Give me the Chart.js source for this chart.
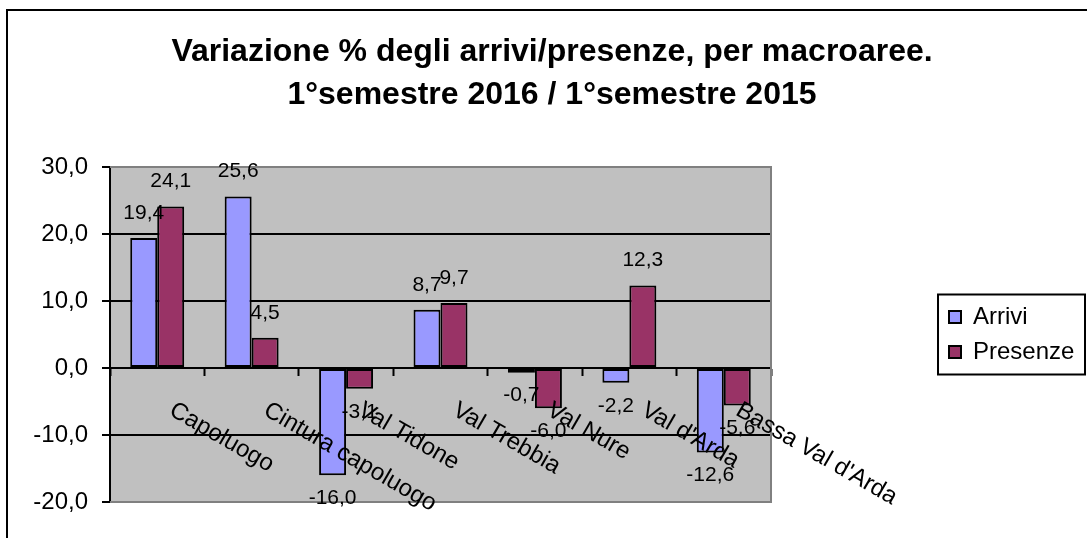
<!DOCTYPE html>
<html>
<head>
<meta charset="utf-8">
<script src="https://cdn.jsdelivr.net/npm/chart.js@4/dist/chart.umd.min.js"></script>
<style>
  html, body { margin: 0; padding: 0; background: #ffffff; }
  canvas { display: block; }
</style>
</head>
<body>
<canvas id="c" width="1087" height="538"></canvas>
<script>
const titleLines = ['Variazione % degli arrivi/presenze, per macroaree.', '1°semestre 2016 / 1°semestre 2015'];
const categories = ['Capoluogo', 'Cintura capoluogo', 'Val Tidone', 'Val Trebbia', 'Val Nure', "Val d'Arda", "Bassa Val d'Arda"];
const seriesNames = ['Arrivi', 'Presenze'];
const arrivi = [19.4, 25.6, -16.0, 8.7, -0.7, -2.2, -12.6];
const presenze = [24.1, 4.5, -3.1, 9.7, -6.0, 12.3, -5.6];
const yMin = -20, yMax = 30, yStep = 10;

const FONT = "'Liberation Sans', Arial, Helvetica, sans-serif";
Chart.defaults.font.family = FONT;
Chart.defaults.color = '#000000';

const fmt = v => v.toFixed(1).replace('.', ',');

const frameAndBg = {
  id: 'frameAndBg',
  beforeDraw(chart) {
    const ctx = chart.ctx;
    const a = chart.chartArea;
    ctx.save();
    ctx.fillStyle = '#ffffff';
    ctx.fillRect(0, 0, chart.width, chart.height);
    ctx.strokeStyle = '#000000';
    ctx.lineWidth = 2;
    ctx.strokeRect(7, 10, 2000, 2000);
    ctx.fillStyle = '#c0c0c0';
    ctx.fillRect(a.left, a.top, a.right - a.left, a.bottom - a.top);
    ctx.restore();
  },
  beforeDatasetsDraw(chart) {
    const ctx = chart.ctx;
    const a = chart.chartArea;
    ctx.save();
    ctx.strokeStyle = '#808080';
    ctx.lineWidth = 2;
    ctx.beginPath();
    ctx.moveTo(a.left, a.top);
    ctx.lineTo(a.right, a.top);
    ctx.lineTo(a.right, a.bottom);
    ctx.lineTo(a.left, a.bottom);
    ctx.stroke();
    ctx.restore();
  },
  afterDraw(chart) {
    const lg = chart.legend;
    if (!lg) return;
    const ctx = chart.ctx;
    const a = chart.chartArea;
    const cy = (a.top + a.bottom) / 2;
    ctx.save();
    ctx.strokeStyle = '#000000';
    ctx.lineWidth = 2;
    ctx.strokeRect(lg.left, cy - 40, 1085 - lg.left, 80);
    ctx.restore();
  }
};

const labelsPlugin = {
  id: 'labelsPlugin',
  afterDatasetsDraw(chart) {
    const ctx = chart.ctx;
    const xs = chart.scales.x, ys = chart.scales.y;
    ctx.save();
    ctx.font = '21px ' + FONT;
    ctx.fillStyle = '#000000';
    ctx.textAlign = 'center';
    ctx.textBaseline = 'middle';
    chart.data.datasets.forEach((ds, di) => {
      const meta = chart.getDatasetMeta(di);
      meta.data.forEach((bar, i) => {
        const v = ds.data[i];
        const y = v >= 0 ? bar.y - 25 : bar.y + 23;
        ctx.fillText(fmt(v), bar.x, y);
      });
    });
    const y0 = ys.getPixelForValue(0);
    ctx.font = '24px ' + FONT;
    ctx.textAlign = 'left';
    ctx.textBaseline = 'top';
    const ang = 30 * Math.PI / 180;
    categories.forEach((c, i) => {
      const x = xs.getPixelForValue(i);
      ctx.save();
      ctx.translate(x + 20, y0 + 30);
      ctx.rotate(ang);
      ctx.fillText(c, 0, 0);
      ctx.restore();
    });
    ctx.restore();
  }
};

new Chart(document.getElementById('c'), {
  type: 'bar',
  data: {
    labels: categories,
    datasets: [
      { label: seriesNames[0], data: arrivi, backgroundColor: '#9999ff', borderColor: '#000000', borderWidth: 2, borderSkipped: false },
      { label: seriesNames[1], data: presenze, backgroundColor: '#993366', borderColor: '#000000', borderWidth: 2, borderSkipped: false }
    ]
  },
  options: {
    responsive: false,
    animation: false,
    devicePixelRatio: 1,
    categoryPercentage: 2 / 3.5,
    barPercentage: 1,
    layout: { padding: { left: 19.6, right: 2.6, top: 0, bottom: 36 } },
    plugins: {
      title: {
        display: true,
        text: titleLines,
        color: '#000000',
        font: { size: 32, weight: 'bold', family: FONT, lineHeight: 43 / 32 },
        padding: { top: 31, bottom: 50 }
      },
      legend: {
        display: true,
        position: 'right',
        fullSize: false,
        labels: {
          font: { size: 24, family: FONT },
          color: '#000000',
          boxWidth: 12,
          boxHeight: 12,
          padding: 11
        }
      },
      tooltip: { enabled: false }
    },
    scales: {
      x: {
        type: 'category',
        position: { y: 0 },
        offset: true,
        grid: { display: true, offset: true, drawOnChartArea: false, drawTicks: true, tickLength: 7, tickColor: '#000000', tickWidth: 2 },
        border: { display: true, color: '#000000', width: 2 },
        ticks: { display: false }
      },
      y: {
        type: 'linear',
        position: 'left',
        min: yMin,
        max: yMax,
        ticks: {
          stepSize: yStep,
          font: { size: 24, family: FONT },
          color: '#000000',
          padding: 14,
          callback: v => fmt(v)
        },
        grid: {
          drawOnChartArea: true,
          tickLength: 8,
          tickColor: '#000000',
          tickWidth: 2,
          lineWidth: 2,
          color: c => (c.tick && (c.tick.value === yMax || c.tick.value === yMin)) ? 'rgba(0,0,0,0)' : '#000000'
        },
        border: { display: true, color: '#000000', width: 2 },
        afterFit: s => { s.width = 90.4; }
      },
      yPad: {
        type: 'linear',
        axis: 'y',
        position: 'right',
        display: true,
        grid: { display: false, drawTicks: false },
        border: { display: false },
        ticks: { display: false },
        afterFit: s => { s.width = 167; }
      }
    }
  },
  plugins: [frameAndBg, labelsPlugin]
});
</script>
</body>
</html>
